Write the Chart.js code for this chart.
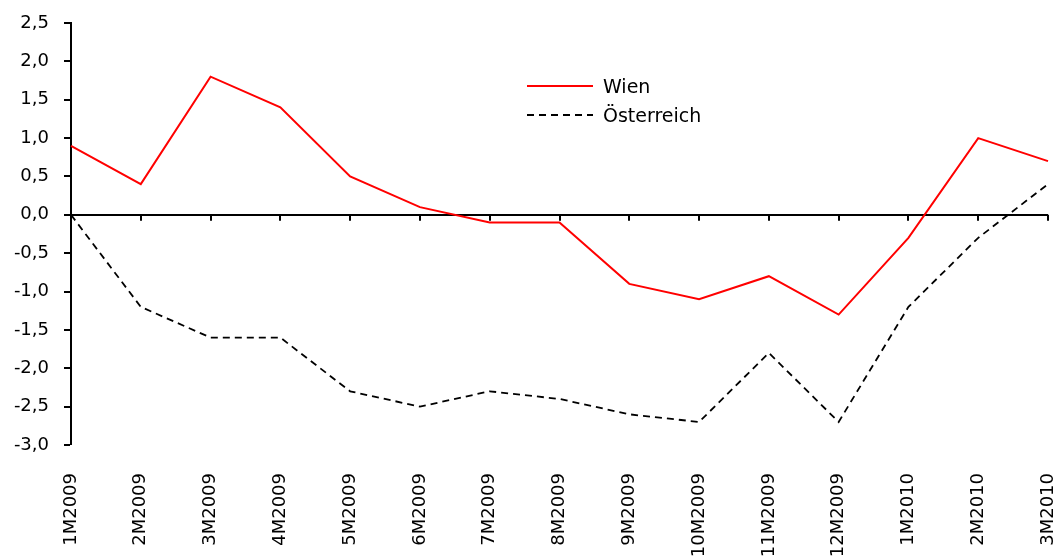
<!DOCTYPE html>
<html><head><meta charset="utf-8">
<script src="https://cdn.jsdelivr.net/npm/chart.js@4/dist/chart.umd.min.js"></script>
<style>html,body{margin:0;padding:0;background:#fff}canvas{display:block}</style>
</head><body>
<canvas id="c" width="1063" height="557"></canvas>
<script>
const categories = ["1M2009","2M2009","3M2009","4M2009","5M2009","6M2009","7M2009","8M2009","9M2009","10M2009","11M2009","12M2009","1M2010","2M2010","3M2010"];
const wien = [0.9,0.4,1.8,1.4,0.5,0.1,-0.1,-0.1,-0.9,-1.1,-0.8,-1.3,-0.3,1.0,0.7];
const oesterreich = [0.0,-1.2,-1.6,-1.6,-2.3,-2.5,-2.3,-2.4,-2.6,-2.7,-1.8,-2.7,-1.2,-0.3,0.4];
const seriesNames = ["Wien","Österreich"];
const FONT = "'DejaVu Sans', sans-serif";

const extras = {
  id: 'extras',
  afterDraw(chart) {
    const ctx = chart.ctx, x = chart.scales.x, y = chart.scales.y;
    const y0 = y.getPixelForValue(0);
    ctx.save();
    ctx.strokeStyle = '#000'; ctx.lineWidth = 2;
    ctx.beginPath();
    for (let i = 0; i < categories.length; i++) {
      const px = Math.round(x.getPixelForValue(i));
      ctx.moveTo(px, y0); ctx.lineTo(px, y0 + 6);
    }
    ctx.stroke();
    // legend
    const items = [
      {name: seriesNames[0], color: '#ff0000', dash: [], ly: 86, ty: 88},
      {name: seriesNames[1], color: '#000', dash: [7,5], ly: 115, ty: 117}
    ];
    ctx.font = '19px ' + FONT; ctx.textBaseline = 'middle'; ctx.fillStyle = '#000';
    items.forEach(it => {
      ctx.beginPath(); ctx.setLineDash(it.dash); ctx.lineWidth = 2; ctx.strokeStyle = it.color;
      ctx.moveTo(527, it.ly); ctx.lineTo(593, it.ly); ctx.stroke();
      ctx.setLineDash([]);
      ctx.fillText(it.name, 603, it.ty);
    });
    ctx.restore();
  }
};

new Chart(document.getElementById('c'), {
  type: 'line',
  data: {
    labels: categories,
    datasets: [
      {label: seriesNames[0], data: wien, borderColor: '#ff0000', borderWidth: 2, pointRadius: 0, tension: 0, fill: false},
      {label: seriesNames[1], data: oesterreich, borderColor: '#000', borderWidth: 1.8, borderDash: [7,5], pointRadius: 0, tension: 0, fill: false}
    ]
  },
  options: {
    responsive: false, animation: false,
    layout: {padding: {top: 23, right: 15, left: 0, bottom: 0}},
    plugins: {legend: {display: false}, tooltip: {enabled: false}},
    scales: {
      x: {
        offset: false,
        grid: {display: false},
        border: {display: false},
        ticks: {color: '#000', font: {family: FONT, size: 18}, minRotation: 90, maxRotation: 90, padding: 20, autoSkip: false},
        afterFit(s) { s.height = 112; s.paddingLeft = 0; s.paddingRight = 0; }
      },
      y: {
        min: -3, max: 2.5,
        border: {display: true, color: '#000', width: 2},
        grid: {
          color: c => (c.tick && c.tick.value === 0) ? '#000' : 'rgba(0,0,0,0)',
          lineWidth: c => (c.tick && c.tick.value === 0) ? 2 : 0,
          tickColor: '#000', tickLength: 7, tickWidth: 2
        },
        ticks: {
          stepSize: 0.5, color: '#000', font: {family: FONT, size: 18}, padding: 15,
          callback: v => Number(v).toFixed(1).replace('.', ',')
        },
        afterFit(s) { s.width = 71; s.paddingTop = 0; s.paddingBottom = 0; }
      }
    }
  },
  plugins: [extras]
});
</script>
</body></html>
